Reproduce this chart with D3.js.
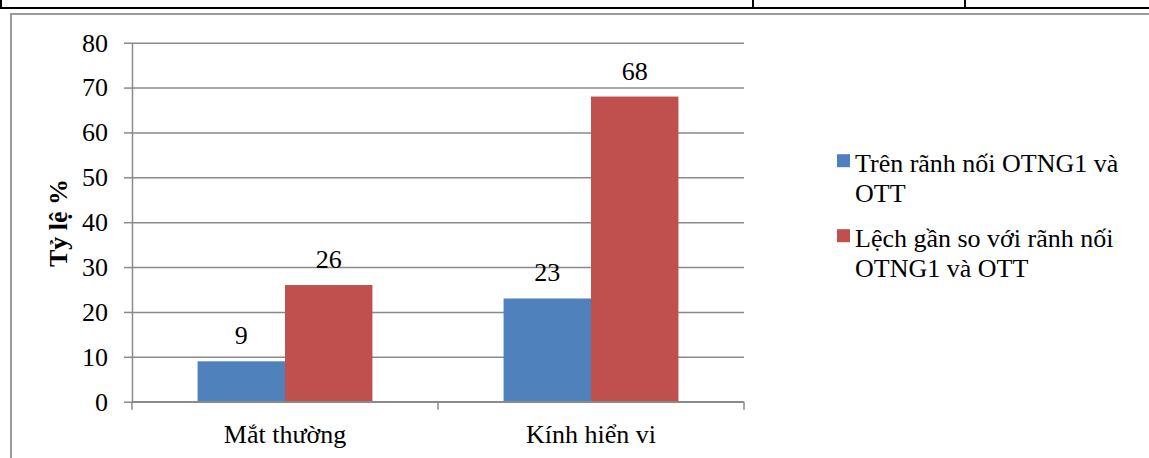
<!DOCTYPE html>
<html>
<head>
<meta charset="utf-8">
<script src="https://cdn.jsdelivr.net/npm/d3@7"></script>
<style>
  html, body { margin: 0; padding: 0; background: #fff; }
  svg { display: block; }
  svg text { font-family: "Liberation Serif", "Times New Roman", Tinos, "Nimbus Roman", "DejaVu Serif", serif; }
</style>
</head>
<body>
<svg id="chart" width="1149" height="458"></svg>
<script>
// Tỷ lệ theo phương pháp quan sát
const categories = ["Mắt thường", "Kính hiển vi"];
const seriesNames = ["Trên rãnh nối OTNG1 và OTT", "Lệch gần so với rãnh nối OTNG1 và OTT"];
const onGroove = [9, 23];
const nearGroove = [26, 68];
const seriesColors = ["#4F81BD", "#C0504D"];
const yTicks = [0, 10, 20, 30, 40, 50, 60, 70, 80];
const yTitle = "Tỷ lệ %";

const svg = d3.select("#chart");
const W = 1149, H = 458;
const plot = { left: 132, right: 744, top: 42.7, bottom: 401.7 };
const axisColor = "#8a8a8a";
const fontSize = 26;

// table frame above the chart
svg.append("line").attr("x1", 0).attr("x2", W).attr("y1", 8).attr("y2", 8)
  .attr("stroke", "#000").attr("stroke-width", 2);
[1, 753, 965].forEach(x => {
  svg.append("line").attr("x1", x).attr("x2", x).attr("y1", 0).attr("y2", 8)
    .attr("stroke", "#000").attr("stroke-width", 2);
});

// chart area border
svg.append("path")
  .attr("d", `M${W},14 H11 V${H}`)
  .attr("fill", "none").attr("stroke", "#9a9a9a").attr("stroke-width", 2);

const x0 = d3.scaleBand().domain(categories).range([plot.left, plot.right]).padding(0);
const x1 = d3.scaleBand().domain(d3.range(seriesNames.length))
  .range([0, x0.bandwidth()]).paddingInner(0).paddingOuter(0.75);
const y = d3.scaleLinear().domain([0, 80]).range([plot.bottom, plot.top]);

// horizontal gridlines
svg.append("g")
  .attr("transform", `translate(${plot.left},0)`)
  .call(d3.axisLeft(y).tickValues(yTicks).tickSize(-(plot.right - plot.left)).tickFormat(""))
  .call(g => g.select(".domain").remove())
  .call(g => g.selectAll("line").attr("stroke", axisColor).attr("stroke-width", 1.5));

// y axis with tick labels
svg.append("g")
  .attr("transform", `translate(${plot.left},0)`)
  .call(d3.axisLeft(y).tickValues(yTicks).tickSize(8).tickPadding(16).tickSizeOuter(0))
  .call(g => g.attr("font-family", null).attr("font-size", null))
  .call(g => g.select(".domain").attr("stroke", axisColor).attr("stroke-width", 1.5))
  .call(g => g.selectAll("line").attr("stroke", axisColor).attr("stroke-width", 1.5))
  .call(g => g.selectAll("text").attr("font-size", fontSize).attr("fill", "#000"));

// bars
const groups = svg.append("g").selectAll("g")
  .data(categories.map((c, i) => ({ c, vals: [onGroove[i], nearGroove[i]] })))
  .join("g")
  .attr("transform", d => `translate(${x0(d.c)},0)`);

groups.selectAll("rect")
  .data(d => d.vals.map((v, k) => ({ v, k })))
  .join("rect")
  .attr("x", d => x1(d.k))
  .attr("width", x1.bandwidth())
  .attr("y", d => y(d.v))
  .attr("height", d => y(0) - y(d.v))
  .attr("fill", d => seriesColors[d.k]);

groups.selectAll("text")
  .data(d => d.vals.map((v, k) => ({ v, k })))
  .join("text")
  .attr("x", d => x1(d.k) + x1.bandwidth() / 2)
  .attr("y", d => y(d.v) - 17)
  .attr("text-anchor", "middle")
  .attr("font-size", fontSize)
  .attr("fill", "#000")
  .text(d => d.v);

// x axis baseline, boundary ticks and category labels
svg.append("line")
  .attr("x1", plot.left).attr("x2", plot.right)
  .attr("y1", y(0)).attr("y2", y(0))
  .attr("stroke", axisColor).attr("stroke-width", 1.5);
const boundaries = categories.map(c => x0(c)).concat([x0.range()[1]]);
svg.append("g").selectAll("line")
  .data(boundaries)
  .join("line")
  .attr("x1", d => d).attr("x2", d => d)
  .attr("y1", y(0)).attr("y2", y(0) + 8)
  .attr("stroke", axisColor).attr("stroke-width", 1.5);

svg.append("g")
  .attr("transform", `translate(0,${y(0)})`)
  .call(d3.axisBottom(x0).tickSize(0))
  .call(g => g.attr("font-family", null).attr("font-size", null))
  .call(g => g.select(".domain").remove())
  .call(g => g.selectAll("text")
    .attr("y", 41).attr("dy", null)
    .attr("font-size", fontSize).attr("fill", "#000"));

// y axis title
svg.append("text")
  .attr("transform", `translate(67,223) rotate(-90)`)
  .attr("text-anchor", "middle")
  .attr("font-size", fontSize)
  .attr("font-weight", "bold")
  .attr("fill", "#000")
  .text(yTitle);

// legend
const legendLines = [
  ["Trên rãnh nối OTNG1 và", "OTT"],
  ["Lệch gần so với rãnh nối", "OTNG1 và OTT"]
];
const legendTop = [171.7, 246.7];
const legend = svg.append("g");
seriesNames.forEach((name, i) => {
  legend.append("rect")
    .attr("x", 837).attr("y", legendTop[i] - 17.5)
    .attr("width", 13).attr("height", 13)
    .attr("fill", seriesColors[i]);
  const t = legend.append("text")
    .attr("x", 855).attr("y", legendTop[i])
    .attr("font-size", fontSize).attr("fill", "#000");
  legendLines[i].forEach((ln, j) => {
    t.append("tspan").attr("x", 855).attr("dy", j === 0 ? 0 : 30).text(ln);
  });
});
</script>
</body>
</html>
